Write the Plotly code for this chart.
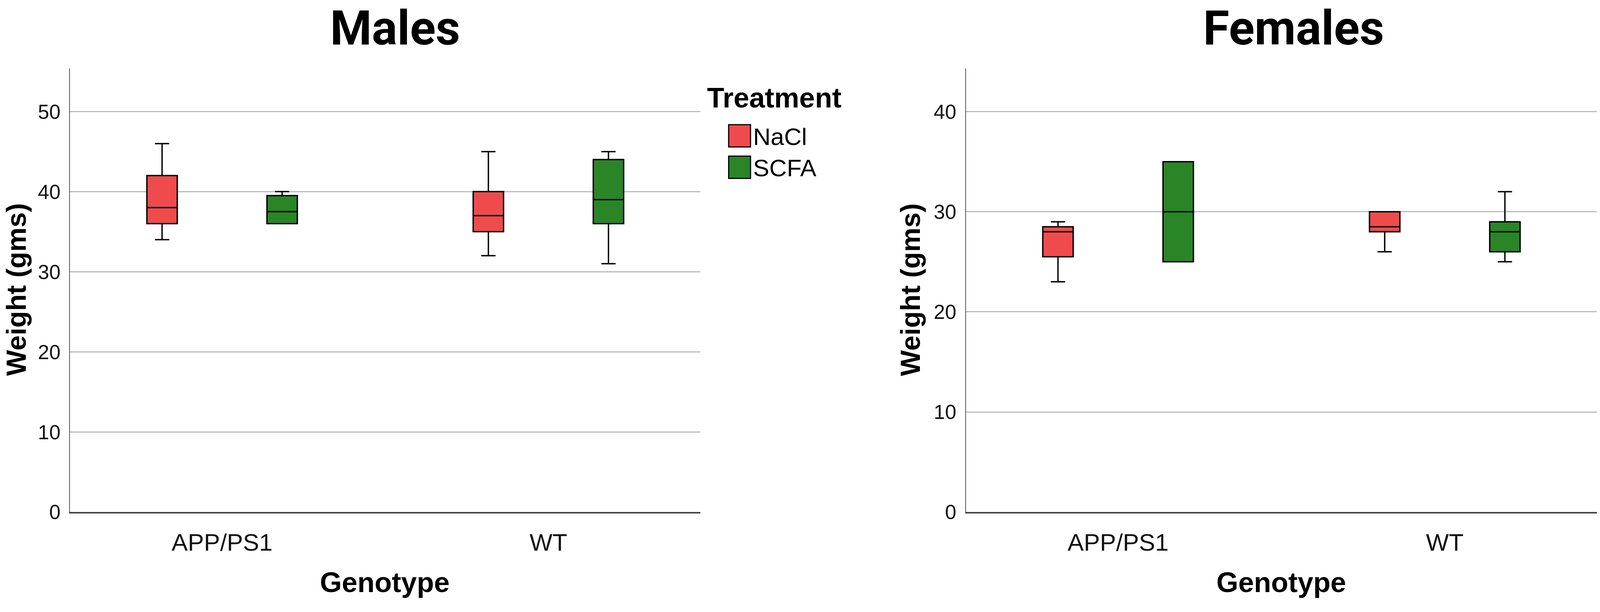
import plotly.graph_objects as go

# reference canvas size used to convert measured pixel positions to paper fractions
W, H = 4317, 1566

genotypes = ["APP/PS1", "WT"]
treatments = ["NaCl", "SCFA"]
colors = {"NaCl": "#F04B4C", "SCFA": "#2A8527"}

# Males: per treatment, values for [APP/PS1, WT]
males = {
    "NaCl": dict(lower=[34, 32], q1=[36, 35], median=[38, 37], q3=[42, 40], upper=[46, 45]),
    "SCFA": dict(lower=[36, 31], q1=[36, 36], median=[37.5, 39], q3=[39.5, 44], upper=[40, 45]),
}
# Females
females = {
    "NaCl": dict(lower=[23, 26], q1=[25.5, 28], median=[28, 28.5], q3=[28.5, 30], upper=[29, 30]),
    "SCFA": dict(lower=[25, 25], q1=[25, 26], median=[30, 28], q3=[35, 29], upper=[35, 32]),
}

y_ticks_males = [0, 10, 20, 30, 40, 50]
y_ticks_females = [0, 10, 20, 30, 40]

FONT = "Liberation Sans, Arial, sans-serif"
TITLE_FONT = "Roboto, Liberation Sans, sans-serif"


def px_x(p):
    return p / W


def px_y(p):
    return 1 - p / H


fig = go.Figure()

for data, xa, ya, grp in [(males, "x", "y", "m"), (females, "x2", "y2", "f")]:
    for t in treatments:
        d = data[t]
        fig.add_trace(go.Box(
            x=genotypes,
            q1=d["q1"], median=d["median"], q3=d["q3"],
            lowerfence=d["lower"], upperfence=d["upper"],
            name=t, fillcolor=colors[t],
            line=dict(color="black", width=3.5),
            whiskerwidth=0.47,
            boxpoints=False,
            showlegend=False,
            hoverinfo="skip",
            offsetgroup=t, alignmentgroup=grp,
            xaxis=xa, yaxis=ya,
        ))

common_x = dict(
    type="category", range=[-0.466, 1.466], showgrid=False, zeroline=False,
    showline=True, linecolor="#444444", linewidth=4, ticks="",
    tickfont=dict(family=FONT, size=62, color="#111111"), ticklabelstandoff=20,
)
common_y = dict(
    showgrid=True, gridcolor="#BBBBBB", gridwidth=3, zeroline=False,
    showline=True, linecolor="#555555", linewidth=2, ticks="",
    tickfont=dict(family=FONT, size=52, color="#111111"), ticklabelstandoff=12,
)

fig.update_layout(
    autosize=True,
    margin=dict(l=0, r=0, t=0, b=0, pad=0),
    paper_bgcolor="white", plot_bgcolor="white",
    boxmode="group", boxgap=0.264, boxgroupgap=0.747,
    showlegend=False,
    xaxis=dict(domain=[px_x(189), px_x(1890)], anchor="y", **common_x),
    yaxis=dict(domain=[px_y(1335), px_y(178)], anchor="x", range=[0, 55.4],
               tickvals=y_ticks_males, **common_y),
    xaxis2=dict(domain=[px_x(2606), px_x(4309)], anchor="y2", **common_x),
    yaxis2=dict(domain=[px_y(1335), px_y(178)], anchor="x2", range=[0, 44.33],
                tickvals=y_ticks_females, **common_y),
)

annotations = []


def ann(text, x, y, size, bold=True, family=FONT, angle=0, xanchor="center"):
    annotations.append(dict(
        text=f"<b>{text}</b>" if bold else text,
        x=px_x(x), y=px_y(y), xref="paper", yref="paper",
        xanchor=xanchor, yanchor="middle", showarrow=False, textangle=angle,
        font=dict(family=family, size=size, color="black"),
    ))


ann("Males", 1066, 74, 122, family=TITLE_FONT)
ann("Females", 3490, 74, 122, family=TITLE_FONT)
ann("Weight (gms)", 44, 755, 70, angle=-90)
ann("Weight (gms)", 2457, 755, 70, angle=-90)
ann("Genotype", 1038, 1518, 72)
ann("Genotype", 3457, 1518, 72)
# legend drawn by hand so its swatches can be as large as in the original
ann("Treatment", 1906, 255, 72, xanchor="left")
legend_rows = [("NaCl", 325, 383), ("SCFA", 407, 465)]
shapes = []
for name, y0, y1 in legend_rows:
    shapes.append(dict(type="rect", xref="paper", yref="paper",
                       x0=px_x(1966), x1=px_x(2025), y0=px_y(y1), y1=px_y(y0),
                       fillcolor=colors[name], line=dict(color="black", width=3)))
    ann(name, 2030, (y0 + y1) / 2 + 2, 62, bold=False, xanchor="left")

fig.update_layout(annotations=annotations, shapes=shapes)

post = (
    "document.body.style.margin='0';"
    "document.body.style.overflow='hidden';"
    "var gd=document.getElementById('{plot_id}');"
    "if(window.Plotly){Plotly.Plots.resize(gd);}"
)
fig.write_html("out.html", default_width="100%", default_height="100vh",
               config={"displayModeBar": False, "responsive": True},
               post_script=post)
